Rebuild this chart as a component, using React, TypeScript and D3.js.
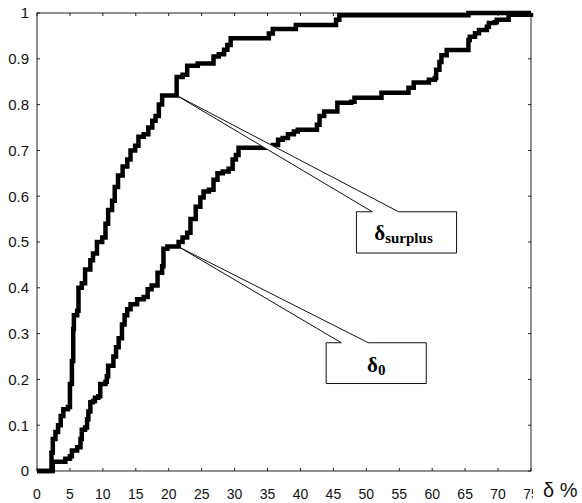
import * as d3 from 'd3'

const width = 582
const height = 503

const margin = {
  top: 13,
  right: 51,
  bottom: 32,
  left: 37
}

const xTicks = [0, 5, 10, 15, 20, 25, 30, 35, 40, 45, 50, 55, 60, 65, 70, 75]
const yTicks = [0, 0.1, 0.2, 0.3, 0.4, 0.5, 0.6, 0.7, 0.8, 0.9, 1]
const yTickLabels = ['0', '0.1', '0.2', '0.3', '0.4', '0.5', '0.6', '0.7', '0.8', '0.9', '1']

// delta_surplus: step curve (x = delta %, y = cumulative share)
const surplusDelta = [0, 2.0, 2.2, 2.4, 2.8, 3.2, 3.6, 4.0, 4.7, 5.0, 5.3, 5.5, 5.6, 6.1, 6.3, 6.8, 7.3, 8.1, 8.5, 9.1, 9.9, 10.4, 10.8, 11.4, 11.8, 12.3, 13.0, 13.7, 14.2, 14.9, 15.4, 16.2, 16.9, 17.5, 18.0, 18.5, 19.0, 21.2, 22.1, 22.8, 24.4, 26.8, 27.6, 28.4, 28.9, 29.4, 35.2, 35.8, 39.3, 45.4, 45.9, 65.5, 75]
const surplusShare = [0, 0, 0.04, 0.07, 0.085, 0.1, 0.12, 0.135, 0.14, 0.19, 0.24, 0.31, 0.34, 0.35, 0.4, 0.41, 0.44, 0.46, 0.475, 0.5, 0.51, 0.54, 0.57, 0.59, 0.62, 0.645, 0.665, 0.68, 0.7, 0.71, 0.73, 0.735, 0.75, 0.765, 0.775, 0.8, 0.82, 0.86, 0.865, 0.885, 0.89, 0.905, 0.91, 0.92, 0.93, 0.945, 0.955, 0.965, 0.974, 0.985, 0.995, 1, 1]

// delta_0
const zeroDelta = [0, 2.0, 2.4, 4.3, 5.0, 5.3, 6.1, 6.6, 6.8, 7.3, 7.6, 7.8, 8.1, 8.5, 8.8, 9.3, 9.6, 10.4, 10.6, 10.8, 11.6, 12.0, 12.4, 12.9, 13.3, 13.7, 14.2, 15.2, 16.2, 16.8, 17.4, 18.3, 19.0, 19.2, 19.8, 21.5, 22.1, 22.8, 23.3, 24.1, 24.8, 25.3, 26.1, 26.8, 27.4, 28.2, 29.1, 29.7, 30.2, 30.6, 35.8, 36.6, 37.3, 38.1, 39.0, 39.6, 42.5, 42.9, 43.6, 45.6, 47.7, 48.2, 52.3, 56.4, 57.2, 59.5, 60.4, 60.6, 61.1, 61.4, 62.2, 65.5, 65.7, 66.5, 67.1, 68.3, 68.6, 69.5, 69.8, 71.6, 75]
const zeroShare = [0, 0, 0.02, 0.027, 0.032, 0.045, 0.052, 0.07, 0.09, 0.095, 0.113, 0.13, 0.15, 0.153, 0.16, 0.163, 0.19, 0.195, 0.207, 0.23, 0.25, 0.27, 0.29, 0.32, 0.34, 0.353, 0.364, 0.375, 0.38, 0.397, 0.405, 0.433, 0.447, 0.485, 0.49, 0.5, 0.51, 0.52, 0.55, 0.577, 0.597, 0.61, 0.614, 0.636, 0.65, 0.654, 0.66, 0.68, 0.69, 0.706, 0.712, 0.723, 0.727, 0.735, 0.741, 0.745, 0.756, 0.775, 0.785, 0.804, 0.806, 0.815, 0.826, 0.837, 0.848, 0.854, 0.858, 0.876, 0.893, 0.908, 0.919, 0.941, 0.948, 0.956, 0.963, 0.97, 0.978, 0.98, 0.985, 0.996, 1]

// callouts, in data units: pointer tip, box corners, gap in the box top for the pointer
const surplusCallout = { tip: [21.2, 0.82], x0: 48.5, x1: 63.7, y0: 0.566, y1: 0.476, gap: [50.9, 54.9] }
const zeroCallout = { tip: [21.7, 0.488], x0: 43.9, x1: 59.1, y0: 0.28, y1: 0.191, gap: [46.2, 50.3] }

function App() {
  const innerWidth = width - margin.left - margin.right
  const innerHeight = height - margin.top - margin.bottom

  const xScale = d3.scaleLinear().domain([0, 75]).range([0, innerWidth])
  const yScale = d3.scaleLinear().domain([0, 1]).range([innerHeight, 0])

  const stepPath = (xs: number[], ys: number[]) =>
    d3.line<number>()
      .x((i) => xScale(xs[i]))
      .y((i) => yScale(ys[i]))
      .curve(d3.curveStepAfter)(d3.range(xs.length))

  const calloutPath = (c: typeof surplusCallout) => {
    const pts: [number, number][] = [
      [c.tip[0], c.tip[1]],
      [c.gap[1], c.y0],
      [c.x1, c.y0],
      [c.x1, c.y1],
      [c.x0, c.y1],
      [c.x0, c.y0],
      [c.gap[0], c.y0]
    ]
    return d3.line().x((d) => xScale(d[0])).y((d) => yScale(d[1]))(pts) + 'Z'
  }

  const tick = 3

  return (
    <svg width={width} height={height} style={{ position: 'absolute', left: 0, top: 0, background: '#fff' }}>
      <rect width={width} height={height} fill="#fff" />
      <g transform={`translate(${margin.left}, ${margin.top})`}>
        <rect width={innerWidth} height={innerHeight} fill="none" stroke="#222" strokeWidth={1} />
        {xTicks.map((t) => (
          <g key={t} transform={`translate(${xScale(t)},0)`}>
            <line y1={innerHeight} y2={innerHeight - tick} stroke="#222" />
            <line y1={0} y2={tick} stroke="#222" />
            <text
              y={innerHeight + 28}
              textAnchor="middle"
              fontFamily="Liberation Sans, Arial, sans-serif"
              fontSize={14}
              fill="#111"
            >{t}</text>
          </g>
        ))}
        {yTicks.map((t, i) => (
          <g key={t} transform={`translate(0,${yScale(t)})`}>
            <line x1={0} x2={tick} stroke="#222" />
            <line x1={innerWidth} x2={innerWidth - tick} stroke="#222" />
            <text
              x={-8}
              dy="0.36em"
              textAnchor="end"
              fontFamily="Liberation Sans, Arial, sans-serif"
              fontSize={15}
              fill="#111"
            >{yTickLabels[i]}</text>
          </g>
        ))}
        <path d={stepPath(zeroDelta, zeroShare) ?? ''} fill="none" stroke="#000" strokeWidth={4.5} />
        <path d={stepPath(surplusDelta, surplusShare) ?? ''} fill="none" stroke="#000" strokeWidth={4.5} />

        <path d={calloutPath(surplusCallout)} fill="#fff" stroke="#111" strokeWidth={1} />
        <text
          x={xScale((surplusCallout.x0 + surplusCallout.x1) / 2) - 3}
          y={yScale(surplusCallout.y0) + 28}
          textAnchor="middle"
          fontFamily="Liberation Serif, Times New Roman, serif"
          fontWeight="bold"
          fill="#000"
        >
          <tspan fontSize={21}>δ</tspan>
          <tspan fontSize={15} dy={3}>surplus</tspan>
        </text>

        <path d={calloutPath(zeroCallout)} fill="#fff" stroke="#111" strokeWidth={1} />
        <text
          x={xScale((zeroCallout.x0 + zeroCallout.x1) / 2)}
          y={yScale(zeroCallout.y0) + 29}
          textAnchor="middle"
          fontFamily="Liberation Serif, Times New Roman, serif"
          fontWeight="bold"
          fill="#000"
        >
          <tspan fontSize={21}>δ</tspan>
          <tspan fontSize={15} dy={3}>0</tspan>
        </text>
      </g>
      <rect x={533} y={478} width={49} height={25} fill="#fff" />
      <text
        x={543}
        y={497}
        fontFamily="Liberation Sans, Arial, sans-serif"
        fontSize={20}
        fill="#111"
      >δ %</text>
    </svg>
  )
}

export default App
